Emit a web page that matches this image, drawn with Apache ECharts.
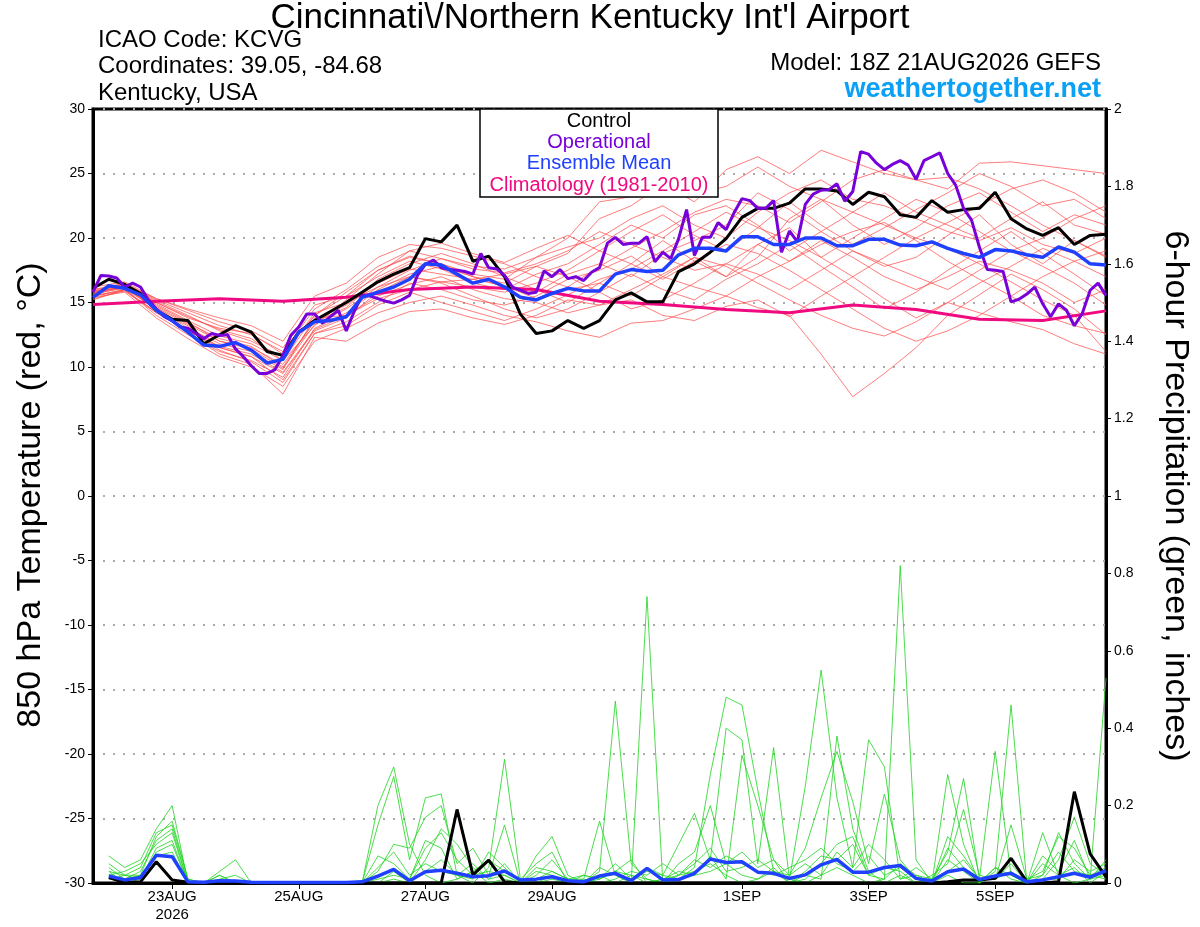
<!DOCTYPE html>
<html><head><meta charset="utf-8">
<script src="https://cdn.jsdelivr.net/npm/echarts@6/dist/echarts.min.js"></script>
<style>html,body{margin:0;padding:0;background:#fff}#c{width:1200px;height:927px}</style>
</head><body><div id="c"></div>
<script>
// x axis: hours after 21AUG2026 18Z
const tickHours = [30, 78, 126, 174, 246, 294, 342];
const tickLabels = ['23AUG\n2026', '25AUG', '27AUG', '29AUG', '1SEP', '3SEP', '5SEP'];

// 850 hPa temperature, 6-hourly from hour 0
const controlTemp = [16.1,16.8,16.4,15.7,14.4,13.7,13.6,11.8,12.5,13.2,12.7,11.2,10.9,12.7,13.6,14.3,15.0,15.8,16.6,17.2,17.7,19.95,19.7,21.0,18.2,18.6,17.0,14.1,12.6,12.8,13.6,13.0,13.6,15.2,15.75,15.05,15.05,17.4,18.0,18.9,19.95,21.6,22.3,22.3,22.7,23.8,23.8,23.65,22.6,23.55,23.2,21.8,21.6,22.9,22.0,22.2,22.3,23.55,21.5,20.7,20.2,20.8,19.5,20.2,20.3];
const meanTemp = [15.4,16.3,16.1,15.6,14.4,13.6,12.7,11.7,11.6,11.9,11.3,10.3,10.6,12.7,13.5,13.6,13.9,15.4,15.8,16.2,16.8,18.0,17.9,17.2,16.5,16.8,16.2,15.4,15.2,15.7,16.1,15.9,15.9,17.2,17.55,17.4,17.5,18.7,19.2,19.2,19.0,20.1,20.1,19.5,19.5,20.0,20.0,19.4,19.4,19.9,19.9,19.45,19.4,19.7,19.2,18.8,18.5,19.1,19.0,18.7,18.5,19.3,18.9,18.0,17.9];
// operational, 3-hourly from hour 0
const operTemp = [15.8,17.1,17.05,16.9,16.2,16.5,16.2,15.2,14.5,13.9,13.6,13.1,13.0,12.6,12.2,12.6,12.45,12.5,11.4,10.8,10.1,9.5,9.5,9.8,10.9,12.45,13.1,14.1,14.1,13.4,13.9,14.4,12.8,14.3,15.55,15.5,15.3,15.1,14.95,15.2,15.55,17.1,17.95,18.3,17.7,17.55,17.5,17.4,17.2,18.8,17.7,17.6,17.1,16.2,15.95,15.7,15.8,17.45,17.0,17.55,16.85,17.0,16.7,17.35,17.7,19.6,20.05,19.5,19.6,19.6,20.1,18.15,18.9,18.4,19.95,22.2,18.65,20.05,20.05,21.2,20.65,21.95,23.05,22.9,22.3,22.3,22.9,18.9,20.55,19.7,22.6,23.4,23.7,23.75,24.2,22.85,23.6,26.7,26.5,25.8,25.3,25.7,26.0,25.65,24.55,26.0,26.3,26.6,25.0,24.1,22.3,21.4,19.3,17.55,17.5,17.4,15.05,15.25,15.65,16.2,14.9,13.9,14.9,14.4,13.2,14.15,15.95,16.5,15.55];
// climatology, daily from hour 0
const climTemp = [14.85,15.1,15.3,15.1,15.4,16.0,16.2,16.0,15.1,14.85,14.45,14.2,14.8,14.45,13.7,13.6,14.35];
// ensemble members, 12-hourly from hour 0
const mem01 = [16.0,16.3,15.0,13.8,13.0,12.6,11.0,14.0,15.8,17.5,18.6,18.0,17.2,16.8,18.5,20.0,22.8,23.2,24.2,22.8,25.3,26.3,25.0,26.8,25.9,25.0,24.5,23.8,25.8,25.9,25.6,25.3,25.0];
const mem02 = [15.5,16.0,14.2,12.8,11.5,10.8,9.0,12.6,13.5,15.0,16.5,16.0,15.2,14.8,15.5,16.8,17.5,18.6,17.0,16.2,15.5,14.6,14.0,11.0,7.7,9.5,11.5,14.0,15.6,17.2,16.0,14.5,12.5];
const mem03 = [15.8,16.2,14.5,12.6,11.0,10.2,7.9,12.3,12.0,13.4,14.3,14.5,13.8,13.3,14.0,15.2,14.8,16.0,17.2,18.5,17.0,19.5,20.8,18.5,17.0,15.3,13.8,15.0,16.5,17.8,19.2,18.2,17.0];
const mem04 = [15.6,16.4,15.3,14.4,13.5,12.8,11.5,14.8,15.5,17.0,18.2,17.6,16.5,16.0,17.2,18.0,19.5,21.0,20.0,21.8,22.5,21.0,19.0,20.5,22.0,23.5,22.0,21.0,20.0,21.5,22.8,21.0,20.3];
const mem05 = [15.2,16.0,14.0,12.5,11.2,10.5,9.2,13.0,14.2,16.0,17.2,17.8,17.0,16.2,15.8,17.2,18.0,17.0,18.8,19.8,21.0,23.5,22.2,20.5,19.0,17.8,18.5,20.2,21.8,19.5,18.0,19.8,18.6];
const mem06 = [15.9,16.1,14.8,13.5,12.0,11.5,10.2,13.5,14.6,16.8,18.0,18.8,18.0,17.0,16.0,15.0,16.5,18.0,19.8,18.2,17.0,18.5,21.5,23.0,21.0,19.5,20.8,22.5,23.5,22.0,20.5,21.8,21.0];
const mem07 = [15.7,16.5,15.1,14.0,12.8,12.0,10.8,14.2,15.0,16.2,17.0,16.5,15.5,14.5,13.8,14.5,15.8,17.2,16.0,15.2,16.8,18.0,19.5,17.8,16.2,14.5,15.8,17.5,19.0,20.5,18.8,17.2,15.5];
const mem08 = [15.4,15.8,13.8,12.2,10.8,10.0,8.5,12.0,13.0,14.2,15.0,15.5,14.8,14.0,13.5,12.8,12.3,13.4,13.6,14.5,15.5,17.0,18.2,19.5,20.5,21.2,19.8,18.2,16.8,15.5,14.0,13.2,12.6];
const mem09 = [16.2,16.6,15.3,14.5,13.8,13.2,12.0,15.5,16.5,18.5,19.5,19.2,18.6,18.0,17.0,16.2,17.8,19.2,20.5,22.0,23.0,22.5,21.2,22.8,24.5,25.3,24.5,24.7,23.8,22.5,21.0,19.8,18.5];
const mem10 = [15.5,16.0,14.6,13.0,11.8,11.2,9.8,13.8,14.0,15.5,16.4,17.0,16.0,15.3,15.0,14.2,14.8,15.2,14.0,13.6,14.7,15.2,13.9,15.5,17.0,18.5,20.0,19.2,18.0,16.6,15.2,14.0,11.2];
const mem11 = [15.8,16.3,14.9,13.6,12.4,11.8,10.5,13.2,15.2,17.2,19.0,19.6,18.8,18.1,19.2,20.2,19.0,20.5,21.8,20.2,19.0,20.8,22.8,21.0,19.5,20.8,22.2,23.5,25.0,24.0,22.5,23.0,21.5];
const mem12 = [15.6,16.2,14.4,13.2,11.5,10.8,9.5,12.8,13.8,15.8,17.0,16.6,16.2,15.8,16.5,17.5,19.0,18.0,16.8,18.2,19.5,18.8,17.5,16.0,14.5,13.0,12.0,12.8,14.0,15.5,17.0,18.2,19.0];
const mem13 = [15.3,15.9,14.2,12.9,11.3,10.4,8.8,12.6,13.2,14.8,15.8,15.0,14.3,13.6,14.5,15.6,16.8,17.6,19.0,20.5,22.0,20.8,19.8,18.5,20.0,21.5,23.0,22.0,20.5,19.0,17.8,16.5,14.8];
const mem14 = [16.0,16.5,15.2,14.2,13.2,12.5,11.2,14.5,16.0,17.8,19.0,18.4,17.6,17.3,18.0,19.0,20.5,19.5,18.5,17.5,18.0,17.2,16.0,17.5,19.0,18.0,17.0,16.0,17.5,19.0,20.0,21.5,22.5];
const mem15 = [15.7,16.1,14.7,13.4,12.2,11.6,10.0,13.6,14.8,16.5,17.6,17.2,16.8,16.3,15.3,16.0,16.5,15.5,17.0,18.5,17.8,16.5,15.2,14.0,13.0,12.4,13.5,15.0,14.2,13.5,12.9,11.8,11.0];
const mem16 = [15.9,16.4,15.0,13.9,12.9,12.2,10.5,14.0,15.5,17.5,18.5,18.0,17.0,16.5,17.8,18.8,21.5,22.5,24.2,23.4,24.0,25.5,24.0,23.0,22.0,21.0,20.0,21.2,22.5,23.8,24.5,23.5,22.0];
const mem17 = [15.5,15.9,14.3,12.8,11.6,11.0,9.6,12.9,14.0,15.3,16.0,16.6,16.8,17.2,17.8,17.0,15.8,14.5,15.2,16.5,18.0,19.5,18.2,19.8,18.5,17.0,16.0,17.0,18.2,17.5,16.5,15.0,16.0];
const mem18 = [15.8,16.2,14.6,13.3,12.0,11.4,9.9,13.3,14.5,16.2,17.5,18.4,17.8,17.6,18.5,19.3,20.0,21.5,22.5,21.0,20.0,22.0,23.5,24.5,23.0,22.5,21.5,20.5,19.8,20.8,19.5,18.8,20.0];

// 6-hour precipitation (inches), 6-hourly from hour 6
const controlPrecip = [0.014,0.001,0.003,0.055,0.008,0.002, 0,0,0,0,0,0,0,0,0,0,0,0,0,0,0,0, 0.19,0.021,0.059,0.003, 0,0,0,0,0,0,0,0,0,0,0,0,0,0,0,0,0,0,0,0,0,0,0,0,0,0,0, 0.003,0.008,0.008,0.012,0.064,0.003,0,0.003,0.236,0.075,0.016];
const meanPrecip = [0.018,0.008,0.014,0.072,0.068,0.003,0.002,0.006,0.005,0.002,0.001,0.001,0.001,0.001,0.001,0.001,0.003,0.018,0.035,0.006,0.029,0.033,0.025,0.016,0.019,0.031,0.008,0.010,0.016,0.006,0.003,0.018,0.025,0.006,0.038,0.008,0.009,0.025,0.062,0.053,0.055,0.028,0.025,0.012,0.021,0.047,0.061,0.028,0.028,0.040,0.045,0.012,0.005,0.029,0.036,0.009,0.018,0.025,0.003,0.008,0.016,0.025,0.015,0.032];
const pm1 = [.07,.04,.06,.14,.20,0,0,0, 0,0,0,0,0,0,0,0, 0,.20,.30,.10,.02,0,.01,.03, 0,.01,0,.02,.06,.01,0,.03, .47,.05,.01,0,.02,.03,.05,.02, 0,.01,.03,.01,0,.02,.04,.02, 0,.01,.82,.06,0,.02,0,0, .04,.01,0,.13,.02,0,.01,.06];
const pm2 = [.04,.01,.02,.12,.16,.01,0,.03, .06,0,0,0,0,0,0,0, 0,.15,.275,.06,.22,.23,.02,0, .04,.32,.01,0,.02,0,.01,.16, .02,0,.74,0,.01,.04,.28,.48, .46,.24,.03,0,.02,.01,.38,.14, .03,0,.02,0,0,.28,.10,0, .03,.46,0,.02,.13,.05,.01,.53];
const pm3 = [.02,.03,.05,.10,.13,0,0,.02, 0,0,0,0,0,0,0,0, 0,.03,.10,.09,.17,.20,.05,.09, .02,.15,0,.07,.12,.02,0,.04, .02,.01,.03,.02,.10,.18,.06,.40, .37,.05,.35,.01,.25,.55,.22,.04, .37,.30,.01,.04,.01,.08,.27,.01, .34,.02,0,.01,.06,.17,.05,.02];
const pm4 = [.05,.02,.01,.09,.11,0,0,.02, 0,0,0,0,0,0,0,0, 0,.07,.05,.01,.11,.09,.01,.03, .06,.03,.01,.05,.08,0,.02,.01, .03,.06,0,.01,.03,.02,.07,.01, .33,.20,.06,.02,.09,.22,.34,.21, .05,.23,.06,.01,0,.12,.07,.01, .01,.15,.01,.03,.12,.09,.02,.04];
const pm5 = [.03,0,.01,.08,.10,0,0,0, 0,0,0,0,0,0,0,0, 0,0,.03,0,.06,.14,.10,.04, .01,.05,0,.03,.02,0,0,.02, 0,.02,.01,0,.05,.08,.20,.05, .02,.01,.04,0,.01,.05,.10,.12, .02,.04,.03,0,.02,.05,.19,.02, .01,.03,0,.05,.02,.04,0,.03];
const pm6 = [.01,.02,.04,.13,.15,.01,0,.01, .02,0,0,0,0,0,0,0, 0,.04,.08,.02,.05,.03,.02,.01, .08,.04,0,.01,.03,.01,.01,0, .01,.03,.02,.05,.02,.06,.04,.07, .05,.03,.02,.04,.06,.09,.05,.03, .07,.02,.04,.01,0,.09,.04,0, .02,.06,.01,.02,.08,.03,.02,.01];
const pm7 = [.02,.01,.03,.11,.14,0,0,0, 0,0,0,0,0,0,0,0, 0,.01,.02,.01,.09,.13,.06,.02, .03,.02,0,0,.01,0,0,.01, .05,.01,.04,.02,.01,.02,.03,.05, .08,.04,.06,0,.03,.07,.06,.10, .02,.01,.05,.02,.01,.03,.06,.01, .01,.05,0,.07,.03,.11,.01,.02];
const pm8 = [.03,.02,.02,.07,.08,0,0,0, 0,0,0,0,0,0,0,0, 0,0,.01,0,.03,.06,.02,.05, .01,.02,0,.04,.03,.01,.02,.01, .03,.02,0,.01,.02,.05,.09,.03, .04,.06,.03,.02,.05,.02,.08,.04, .10,.06,.01,.02,0,.06,.03,0, .04,.02,0,.01,.01,.06,.03,.05];

const members = [mem01,mem02,mem03,mem04,mem05,mem06,mem07,mem08,mem09,mem10,mem11,mem12,mem13,mem14,mem15,mem16,mem17,mem18];
const precipMembers = [pm1,pm2,pm3,pm4,pm5,pm6,pm7,pm8];

const FONT = "'Liberation Sans', Arial, sans-serif";
const toXY = (arr, step, start) => arr.map((v, i) => [start + step * i, v]);
const base = {type: 'line', symbol: 'none', showSymbol: false, silent: true, animation: false};

const series = [];
members.forEach(m => series.push(Object.assign({}, base, {
  data: toXY(m, 12, 0), yAxisIndex: 0,
  lineStyle: {color: '#ff4a4a', width: 0.9, opacity: 0.8}, z: 2
})));
precipMembers.forEach(m => series.push(Object.assign({}, base, {
  data: toXY(m, 6, 6), yAxisIndex: 1,
  lineStyle: {color: '#22d422', width: 0.9, opacity: 0.9}, z: 2
})));
series.push(Object.assign({}, base, {data: toXY(climTemp, 24, 0), yAxisIndex: 0,
  lineStyle: {color: '#f00a80', width: 3}, z: 3}));
series.push(Object.assign({}, base, {data: toXY(controlTemp, 6, 0), yAxisIndex: 0,
  lineStyle: {color: '#000000', width: 3}, z: 4}));
series.push(Object.assign({}, base, {data: toXY(controlPrecip, 6, 6), yAxisIndex: 1,
  lineStyle: {color: '#000000', width: 3}, z: 4}));
series.push(Object.assign({}, base, {data: toXY(operTemp, 3, 0), yAxisIndex: 0,
  lineStyle: {color: '#7800d8', width: 3}, z: 5}));
series.push(Object.assign({}, base, {data: toXY(meanTemp, 6, 0), yAxisIndex: 0,
  lineStyle: {color: '#2040ff', width: 3.5}, z: 6}));
series.push(Object.assign({}, base, {data: toXY(meanPrecip, 6, 6), yAxisIndex: 1,
  lineStyle: {color: '#2040ff', width: 3.5}, z: 6}));

const chart = echarts.init(document.getElementById('c'), null, {renderer: 'canvas'});
chart.setOption({
  backgroundColor: '#ffffff',
  animation: false,
  textStyle: {fontFamily: FONT},
  grid: {left: 93, right: 94, top: 109, bottom: 44, show: true, borderColor: '#000', borderWidth: 3,
    backgroundColor: 'transparent', containLabel: false, outerBoundsMode: 'none'},
  xAxis: {
    type: 'value', min: 0, max: 384, interval: 6,
    axisLine: {show: true, onZero: false, lineStyle: {color: '#000', width: 3}},
    axisTick: {show: true, customValues: tickHours, length: 6, lineStyle: {color: '#000', width: 1}},
    axisLabel: {show: true, customValues: tickHours, color: '#000', fontSize: 15, fontFamily: FONT, margin: 5, lineHeight: 18,
      formatter: v => { const i = tickHours.indexOf(Math.round(v)); return i >= 0 ? tickLabels[i] : ''; }},
    splitLine: {show: false}
  },
  yAxis: [{
    type: 'value', min: -30, max: 30, interval: 5, position: 'left',
    axisLine: {show: true, onZero: false, lineStyle: {color: '#000', width: 3}},
    axisTick: {show: true, length: 5, lineStyle: {color: '#000', width: 1}},
    axisLabel: {color: '#000', fontSize: 14, fontFamily: FONT, margin: 8},
    splitLine: {show: true, lineStyle: {color: '#aaaaaa', width: 2, type: [2, 8]}}
  }, {
    type: 'value', min: 0, max: 2, interval: 0.2, position: 'right',
    axisLine: {show: true, onZero: false, lineStyle: {color: '#000', width: 3}},
    axisTick: {show: true, length: 5, lineStyle: {color: '#000', width: 1}},
    axisLabel: {color: '#000', fontSize: 14, fontFamily: FONT, margin: 8, formatter: v => String(+v.toFixed(1))},
    splitLine: {show: false}
  }],
  series: series,
  graphic: [
    {type: 'text', x: 590, y: 18, z: 100, style: {text: "Cincinnati\\/Northern Kentucky Int'l Airport", font: '35px ' + FONT, fill: '#000', align: 'center', verticalAlign: 'middle'}},
    {type: 'text', x: 98, y: 40, z: 100, style: {text: 'ICAO Code: KCVG', font: '24px ' + FONT, fill: '#000', align: 'left', verticalAlign: 'middle'}},
    {type: 'text', x: 98, y: 66, z: 100, style: {text: 'Coordinates: 39.05, -84.68', font: '24px ' + FONT, fill: '#000', align: 'left', verticalAlign: 'middle'}},
    {type: 'text', x: 98, y: 93, z: 100, style: {text: 'Kentucky, USA', font: '24px ' + FONT, fill: '#000', align: 'left', verticalAlign: 'middle'}},
    {type: 'text', x: 1101, y: 63, z: 100, style: {text: 'Model: 18Z 21AUG2026 GEFS', font: '24px ' + FONT, fill: '#000', align: 'right', verticalAlign: 'middle'}},
    {type: 'text', x: 1101, y: 90, z: 100, style: {text: 'weathertogether.net', font: 'bold 27px ' + FONT, fill: '#0aa0f5', align: 'right', verticalAlign: 'middle'}},
    {type: 'rect', z: 100, shape: {x: 480, y: 109, width: 238, height: 88}, style: {fill: '#fff', stroke: '#000', lineWidth: 1.5}},
    {type: 'text', x: 599, y: 121, z: 101, style: {text: 'Control', font: '20px ' + FONT, fill: '#000', align: 'center', verticalAlign: 'middle'}},
    {type: 'text', x: 599, y: 142, z: 101, style: {text: 'Operational', font: '20px ' + FONT, fill: '#7800d8', align: 'center', verticalAlign: 'middle'}},
    {type: 'text', x: 599, y: 163, z: 101, style: {text: 'Ensemble Mean', font: '20px ' + FONT, fill: '#2040ff', align: 'center', verticalAlign: 'middle'}},
    {type: 'text', x: 599, y: 185, z: 101, style: {text: 'Climatology (1981-2010)', font: '20px ' + FONT, fill: '#f00a80', align: 'center', verticalAlign: 'middle'}},
    {type: 'text', x: 31, y: 495, rotation: Math.PI / 2, z: 100, style: {text: '850 hPa Temperature (red, °C)', font: '34px ' + FONT, fill: '#000', align: 'center', verticalAlign: 'middle'}},
    {type: 'text', x: 1175, y: 496, rotation: -Math.PI / 2, z: 100, style: {text: '6-hour Precipitation (green, inches)', font: '34px ' + FONT, fill: '#000', align: 'center', verticalAlign: 'middle'}}
  ]
});
</script></body></html>
